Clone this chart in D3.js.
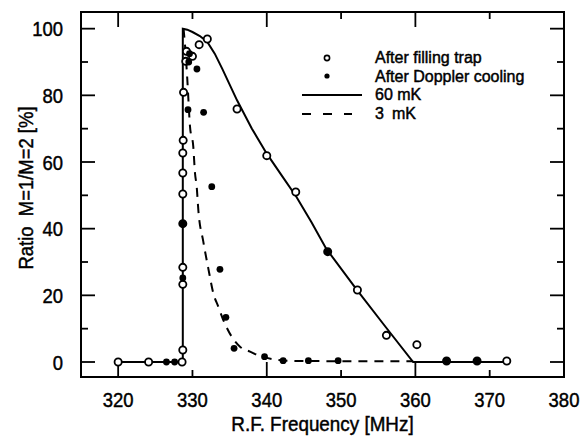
<!DOCTYPE html>
<html><head><meta charset="utf-8">
<script src="https://cdn.jsdelivr.net/npm/d3@7"></script>
<style>
body{margin:0;background:#fff;}
svg{display:block;}
text{font-family:"Liberation Sans",Arial,sans-serif;fill:#000;stroke:#000;stroke-width:0.45px;}
</style></head><body>
<svg id="c" width="582" height="439"></svg>
<script>
// ---- data ----
const xTicks = [320, 330, 340, 350, 360, 370, 380];
const yTicks = [0, 20, 40, 60, 80, 100];
const xTitle = "R.F. Frequency [MHz]";
const yTitle = "Ratio  M=1/M=2 [%]";
const legendLabels = ["After filling trap", "After Doppler cooling", "60 mK", "3"];

// After filling trap (open circles)
const fillFreq = [320, 324.1, 328.6, 328.7, 328.7, 328.7, 328.7, 328.7, 328.7, 328.7, 328.75, 328.8, 329.1, 329.2, 330.0, 330.9, 332.0, 336.0, 340.0, 343.9, 348.2, 352.2, 356.1, 360.2, 364.2, 368.3, 372.3];
const fillRatio = [0, 0, 0, 3.6, 23.3, 28.4, 41.5, 50.4, 56.7, 62.7, 66.5, 80.9, 90.2, 93.2, 91.7, 95.2, 96.9, 75.9, 61.9, 51.0, 33.1, 21.6, 8.0, 5.2, 0.3, 0.3, 0.3];

// After Doppler cooling (filled dots)
const coolFreq = [326.5, 327.6, 328.7, 328.7, 329.4, 329.6, 329.5, 330.6, 331.5, 332.6, 333.7, 334.5, 335.6, 339.7, 342.2, 345.6, 349.6, 348.2, 364.2, 368.3];
const coolRatio = [0, 0, 25.2, 41.4, 75.7, 92.5, 90.0, 87.9, 74.9, 52.6, 27.8, 13.4, 4.1, 1.6, 0.4, 0.4, 0.4, 33.1, 0.3, 0.3];

// 60 mK model (solid)
const warmFreq = [320, 328.7, 328.7, 329.3, 330.0, 331.0, 332.0, 333.0, 334.0, 336.0, 338.0, 340.0, 342.0, 344.0, 346.0, 348.0, 352.0, 356.0, 359.7, 372.3];
const warmRatio = [0, 0, 100, 99.7, 99.0, 97.8, 96.0, 92.5, 88.0, 78.5, 70.0, 62.5, 56.0, 49.5, 42.0, 34.0, 22.0, 10.5, 0, 0];

// 3 mK model (dashed)
const coldFreq = [328.8, 329.0, 329.3, 329.67, 330.11, 330.34, 330.57, 330.79, 331.46, 332.13, 332.81, 333.48, 334.15, 335.28, 336.4, 337.75, 339.1, 341.0, 344.0, 359.7];
const coldRatio = [100, 95, 85, 70.6, 64.6, 56.7, 52.6, 45.6, 36.1, 28.1, 20.6, 16.6, 12.6, 7.6, 4.6, 3.1, 1.8, 0.8, 0.3, 0.2];

// ---- chart ----
const svg = d3.select("#c");
const L = 81, R = 564, T = 12, B = 377;
const x = d3.scaleLinear().domain([315, 380]).range([L, R]);
const y = d3.scaleLinear().domain([-4.5, 105]).range([B, T]);

const minorX = d3.range(320, 381, 10);
const minorY = d3.range(0, 101, 10);

function txt(parent, tx, ty, str, size, anchor, sx, rot) {
  return parent.append("text")
    .attr("transform", `translate(${tx},${ty})` + (rot ? ` rotate(${rot})` : "") + ` scale(${sx},1)`)
    .attr("text-anchor", anchor).attr("font-size", size)
    .style("white-space", "pre").text(str);
}

// frame
svg.append("rect").attr("x", L).attr("y", T).attr("width", R - L).attr("height", B - T)
  .attr("fill", "none").attr("stroke", "#000").attr("stroke-width", 2);

// ticks
const g = svg.append("g").attr("stroke", "#000").attr("stroke-width", 1.8);
minorX.forEach(v => {
  const len = (v % 20 === 0) ? 15 : 7;
  g.append("line").attr("x1", x(v)).attr("x2", x(v)).attr("y1", B).attr("y2", B - len);
  g.append("line").attr("x1", x(v)).attr("x2", x(v)).attr("y1", T).attr("y2", T + len);
});
minorY.forEach(v => {
  const len = (v % 20 === 0) ? 14 : 7;
  g.append("line").attr("x1", L).attr("x2", L + len).attr("y1", y(v)).attr("y2", y(v));
  g.append("line").attr("x1", R).attr("x2", R - len).attr("y1", y(v)).attr("y2", y(v));
});

// tick labels
const xl = svg.append("g");
xTicks.forEach(d => txt(xl, x(d), 406.5, String(d), 21, "middle", 0.88));
const yl = svg.append("g");
yTicks.forEach(d => txt(yl, 63, y(d) + 7.5, String(d), 21, "end", 0.88));

// titles
txt(svg, (L + R) / 2, 430.5, xTitle, 20.5, "middle", 0.92);
txt(svg, 33, 188, yTitle, 20.5, "middle", 0.9, -90);

// curves
const warm = warmFreq.map((f, i) => [f, warmRatio[i]]);
const cold = coldFreq.map((f, i) => [f, coldRatio[i]]);
svg.append("path").attr("d", d3.line().x(d => x(d[0])).y(d => y(d[1])).curve(d3.curveLinear)(warm))
  .attr("fill", "none").attr("stroke", "#000").attr("stroke-width", 2);
svg.append("path").attr("d", d3.line().x(d => x(d[0])).y(d => y(d[1])).curve(d3.curveMonotoneX)(cold))
  .attr("fill", "none").attr("stroke", "#000").attr("stroke-width", 2).attr("stroke-dasharray", "9,7");

// points
svg.append("g").selectAll("circle").data(fillFreq.map((f, i) => [f, fillRatio[i]])).join("circle")
  .attr("cx", d => x(d[0])).attr("cy", d => y(d[1])).attr("r", 3.6)
  .attr("fill", "#fff").attr("stroke", "#000").attr("stroke-width", 1.8);
svg.append("g").selectAll("circle").data(coolFreq.map((f, i) => [f, coolRatio[i]])).join("circle")
  .attr("cx", d => x(d[0])).attr("cy", d => y(d[1])).attr("r", 3.4)
  .attr("fill", "#000");

// legend
const lg = svg.append("g");
lg.append("circle").attr("cx", 327).attr("cy", 58).attr("r", 2.6).attr("fill", "#fff").attr("stroke", "#000").attr("stroke-width", 1.6);
lg.append("circle").attr("cx", 327).attr("cy", 76).attr("r", 2.6).attr("fill", "#000");
lg.append("line").attr("x1", 302).attr("x2", 362).attr("y1", 95).attr("y2", 95).attr("stroke", "#000").attr("stroke-width", 2);
lg.append("line").attr("x1", 302).attr("x2", 352).attr("y1", 114).attr("y2", 114).attr("stroke", "#000").attr("stroke-width", 2).attr("stroke-dasharray", "9,12");
const ly = [63, 81.5, 100, 118.5];
legendLabels.forEach((t, i) => txt(lg, 375, ly[i], t, 16, "start", 1.0));
txt(lg, 392, 118.5, "mK", 16, "start", 1.0);
</script>
</body></html>
